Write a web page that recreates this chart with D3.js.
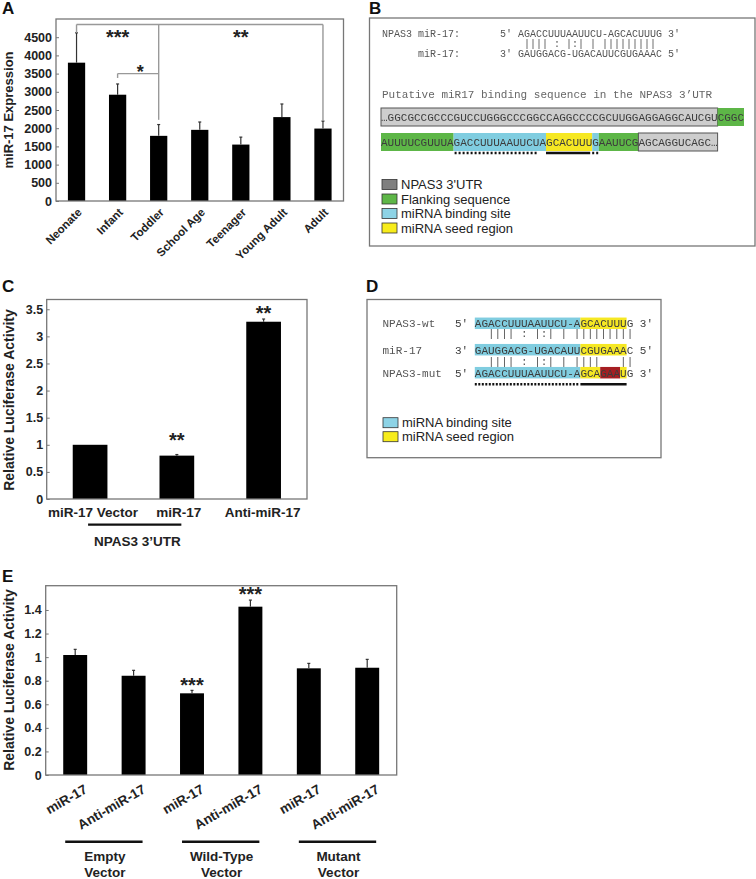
<!DOCTYPE html>
<html><head><meta charset="utf-8">
<script src="https://cdn.jsdelivr.net/npm/d3@7"></script>
<style>body{margin:0;background:#fff}svg{display:block}.mono{filter:grayscale(1)}</style>
</head><body><svg id="fig" width="756" height="879"></svg>
<script>
// ---------------- DATA ----------------
// Panel A
const stagesA = ["Neonate","Infant","Toddler","School Age","Teenager","Young Adult","Adult"];
const exprA = [3800, 2920, 1790, 1955, 1550, 2305, 1990];
const exprErrA = [820, 295, 310, 215, 205, 360, 205];
const ticksA = [0,500,1000,1500,2000,2500,3000,3500,4000,4500];
const yMaxA = 5000;
// significance brackets in A (indices into stagesA, bracket level in data units)
const sigLevelTopA = 4850;
const sigTopLinksA = [0, 2, 6];           // Neonate, Toddler, Adult
const sigTopDropsA = [4620, 2230, 2200];  // lower ends of the vertical legs
const sigTopLabelsA = ["***", "**"];
const sigSmallA = {from:1, to:2, level:3500, drop:3380, label:"*"};

// Panel B (sequence annotation)
const bAlignTop = ["NPAS3 miR-17:", "5' AGACCUUUAAUUCU-AGCACUUUG 3'"];
const bAlignPipes = "    |||| : |:| | |||||||||";
const bAlignBottom = ["miR-17:", "3' GAUGGACG-UGACAUUCGUGAAAC 5'"];
const bTitle = "Putative miR17 binding sequence in the NPAS3 3’UTR";
const seqB1 = [["…GGCGCCGCCCGUCCUGGGCCCGGCCAGGCCCCGCUUGGAGGAGGCAUCGU","utr"],["CGGC","flank"]];
const seqB2 = [["AUUUUCGUUUA","flank"],["GACCUUUAAUUCUA","bind"],["GCACUUU","seed"],["G","bind"],["AAUUCG","flank"],["AGCAGGUCAGC…","utr"]];
const legendB = [["NPAS3 3'UTR","utrL"],["Flanking sequence","flank"],["miRNA binding site","bindL"],["miRNA seed region","seedL"]];

// Panel C
const catsC = ["miR-17 Vector","miR-17","Anti-miR-17"];
const lucC = [1.0, 0.80, 3.27];
const lucErrC = [0, 0.02, 0.05];
const sigC = ["", "**", "**"];
const ticksC = [0,0.5,1,1.5,2,2.5,3,3.5];
const groupC = "NPAS3 3’UTR";
const yMaxC = 3.68;

// Panel D
const dNames = ["NPAS3-wt","miR-17","NPAS3-mut"];
const seqD1 = [["5' ",null],["AGACCUUUAAUUCU-A","bind"],["GCACUUU","seed"],["G 3'",null]];
const seqD2 = [["3' ",null],["GAUGGACG-UGACAUU","bind"],["CGUGAAA","seed"],["C 5'",null]];
const seqD3 = [["5' ",null],["AGACCUUUAAUUCU-A","bind"],["GCA","seed"],["GAA","mut"],["U","seed"],["G 3'",null]];
const dPipes1 = "     |||| : |:| | |||||||||";
const dPipes2 = "     |||| : |:| | ||||   ||";
const legendD = [["miRNA binding site","bindL"],["miRNA seed region","seedL"]];

// Panel E
const catsE = ["miR-17","Anti-miR-17","miR-17","Anti-miR-17","miR-17","Anti-miR-17"];
const groupsE = [["Empty","Vector"],["Wild-Type","Vector"],["Mutant","Vector"]];
const lucE = [1.018, 0.842, 0.693, 1.428, 0.905, 0.910];
const lucErrE = [0.048, 0.046, 0.025, 0.056, 0.042, 0.071];
const sigE = ["", "", "***", "***", "", ""];
const ticksE = [0,0.2,0.4,0.6,0.8,1,1.2,1.4];
const yMaxE = 1.606;

// ---------------- STYLE ----------------
const SANS = "'Liberation Sans', Arial, Helvetica, sans-serif";
const MONO = "'Liberation Mono', 'Courier New', monospace";
const COL = {utr:"#cdcdcd", utrL:"#7f7f7f", flank:"#5db647", bind:"#80cde0", bindL:"#8dd3e6",
             seed:"#f6e823", seedL:"#f7ec1b", mut:"#a61e22"};
const svg = d3.select("#fig");

function panelLabel(t, x, y){
  svg.append("text").attr("x",x).attr("y",y).text(t)
    .attr("font-family",SANS).attr("font-weight","bold").attr("font-size",17).attr("fill","#111");
}
function frame(x0,x1,y0,y1){
  svg.append("rect").attr("x",x0).attr("y",y0).attr("width",x1-x0).attr("height",y1-y0)
    .attr("fill","none").attr("stroke","#777").attr("stroke-width",1.3);
}
function yAxis(y, x0, ticks, pad, fs){
  const g = svg.append("g").attr("transform",`translate(${x0},0)`)
    .call(d3.axisLeft(y).tickValues(ticks).tickSize(-3).tickPadding(pad).tickFormat(d3.format("~g")));
  g.select(".domain").remove();
  g.selectAll(".tick line").attr("stroke","#777");
  g.selectAll("text").attr("font-family",SANS).attr("font-weight","bold").attr("font-size",fs).attr("fill","#222");
}
function yTitle(t, x, yc, fs){
  svg.append("text").attr("transform",`translate(${x},${yc}) rotate(-90)`).attr("text-anchor","middle")
    .attr("font-family",SANS).attr("font-weight","bold").attr("font-size",fs).attr("fill","#222").text(t);
}
function bars(x, y, vals, errs, keys){
  const bw = x.bandwidth();
  svg.append("g").selectAll("rect").data(vals).join("rect")
    .attr("x",(d,i)=>x(keys[i])).attr("y",d=>y(d)).attr("width",bw).attr("height",d=>y(0)-y(d))
    .attr("fill","#000");
  const eg = svg.append("g").attr("stroke","#333").attr("stroke-width",1.2);
  vals.forEach((v,i)=>{
    if(!errs[i]) return;
    const cx = x(keys[i]) + bw/2;
    eg.append("line").attr("x1",cx).attr("x2",cx).attr("y1",y(v)).attr("y2",y(v+errs[i]));
    eg.append("line").attr("x1",cx-1.5).attr("x2",cx+1.5).attr("y1",y(v+errs[i])).attr("y2",y(v+errs[i]));
  });
}
function stars(t, cx, cyCenter, fs){
  svg.append("text").attr("x",cx).attr("y",cyCenter + 0.57*fs).attr("text-anchor","middle")
    .attr("font-family",SANS).attr("font-weight","bold").attr("font-size",fs).attr("fill","#222").text(t);
}

// ---------------- PANEL A ----------------
panelLabel("A", 2, 14);
{
  const x0=56, x1=343.5, yb=201, yt=19;
  const x = d3.scaleBand().domain(stagesA).range([x0,x1]).paddingInner(0.58).paddingOuter(0.29);
  const y = d3.scaleLinear().domain([0,yMaxA]).range([yb,yt]);
  bars(x,y,exprA,exprErrA,stagesA);
  yAxis(y, x0, ticksA, 4, 12.5);
  frame(x0,x1,yt,yb);
  yTitle("miR-17 Expression", 13, 110, 13);
  const cx = i => x(stagesA[i]) + x.bandwidth()/2;
  svg.append("g").selectAll("text").data(stagesA).join("text")
    .attr("transform",(d,i)=>`translate(${cx(i)+6},${yb+12}) rotate(-45)`)
    .attr("text-anchor","end").attr("font-family",SANS).attr("font-weight","bold")
    .attr("font-size",11.5).attr("fill","#222").text(d=>d);
  const sg = svg.append("g").attr("stroke","#999").attr("stroke-width",1.4).attr("fill","none");
  const lx = sigTopLinksA.map(cx);
  sg.append("line").attr("x1",lx[0]).attr("x2",lx[2]).attr("y1",y(sigLevelTopA)).attr("y2",y(sigLevelTopA));
  sigTopLinksA.forEach((k,j)=>{
    sg.append("line").attr("x1",lx[j]).attr("x2",lx[j]).attr("y1",y(sigLevelTopA)).attr("y2",y(sigTopDropsA[j]));
  });
  sg.append("line").attr("x1",cx(sigSmallA.from)).attr("x2",cx(sigSmallA.to)).attr("y1",y(sigSmallA.level)).attr("y2",y(sigSmallA.level));
  sg.append("line").attr("x1",cx(sigSmallA.from)).attr("x2",cx(sigSmallA.from)).attr("y1",y(sigSmallA.level)).attr("y2",y(sigSmallA.drop));
  stars(sigTopLabelsA[0], (lx[0]+lx[1])/2, 33, 20);
  stars(sigTopLabelsA[1], (lx[1]+lx[2])/2, 33, 20);
  stars(sigSmallA.label, (cx(sigSmallA.from)+cx(sigSmallA.to))/2 + 2, 68, 18);
}

// ---------------- helpers for sequences ----------------
function seqRow(xs, yc, fs, h, segs, boxedKey){
  const cw = fs*0.6;
  let k = 0;
  const g = svg.append("g");
  segs.forEach(([t,key])=>{
    const n = Array.from(t).length;
    if(key){
      g.append("rect").attr("x",xs+k*cw).attr("y",yc-h/2).attr("width",n*cw).attr("height",h)
        .attr("fill",COL[key]).attr("stroke",key===boxedKey?"#555":"none").attr("stroke-width",1);
    }
    k += n;
  });
  g.append("text").attr("class","mono").attr("x",xs).attr("y",yc).attr("dy","0.35em").attr("font-family",MONO)
    .attr("font-size",fs).attr("fill","#3c3c3c")
    .style("white-space","pre").text(segs.map(s=>s[0]).join(""));
  return k;
}
function monoText(t, x, yc, fs, col){
  svg.append("text").attr("class","mono").attr("x",x).attr("y",yc).attr("dy","0.35em").attr("font-family",MONO)
    .attr("font-size",fs).attr("fill",col||"#555").style("white-space","pre").text(t);
}
function legend(items, x, y0, dy){
  items.forEach(([t,key],i)=>{
    const yc = y0 + i*dy;
    svg.append("rect").attr("x",x).attr("y",yc-5).attr("width",15).attr("height",10)
      .attr("fill",COL[key]).attr("stroke","#333").attr("stroke-width",0.8);
    svg.append("text").attr("x",x+19).attr("y",yc).attr("dy","0.36em").attr("font-family",SANS)
      .attr("font-size",13).attr("fill","#222").text(t);
  });
}

// ---------------- PANEL B ----------------
panelLabel("B", 369, 14);
frame(369.5, 755, 18, 246);
monoText(bAlignTop[0], 382, 33.5, 10);
monoText(bAlignTop[1], 500, 33.5, 10);
monoText(bAlignPipes, 500, 43.5, 10);
monoText(bAlignBottom[0], 418, 53.5, 10);
monoText(bAlignBottom[1], 500, 53.5, 10);
monoText(bTitle, 382, 94, 11, "#666");
{
  const xs = 381, cw = 6.6;
  seqRow(xs, 117, 11, 18, seqB1, "utr");
  seqRow(xs, 142, 11, 18, seqB2, "utr");
  const lens = seqB2.map(s=>Array.from(s[0]).length);
  const st = lens.map((l,i)=>d3.sum(lens.slice(0,i)));
  const ul = svg.append("g").attr("stroke","#111").attr("stroke-width",2.5);
  ul.append("line").attr("x1",xs+st[1]*cw+1).attr("x2",xs+st[2]*cw-8).attr("y1",153).attr("y2",153).attr("stroke-dasharray","2,2");
  ul.append("line").attr("x1",xs+st[2]*cw).attr("x2",xs+st[3]*cw-2).attr("y1",153).attr("y2",153);
  ul.append("line").attr("x1",xs+st[3]*cw).attr("x2",xs+st[4]*cw).attr("y1",153).attr("y2",153).attr("stroke-dasharray","2,2");
}
legend(legendB, 382, 184.5, 14.5);

// ---------------- PANEL C ----------------
panelLabel("C", 2, 292);
{
  const x0=46.7, x1=307, yb=499, yt=299.5;
  const x = d3.scaleBand().domain(catsC).range([x0,x1]).paddingInner(0.6).paddingOuter(0.3);
  const y = d3.scaleLinear().domain([0,yMaxC]).range([yb,yt]);
  bars(x,y,lucC,lucErrC,catsC);
  yAxis(y, x0, ticksC, 3.5, 12.5);
  frame(x0,x1,yt,yb);
  yTitle("Relative Luciferase Activity", 14, 400, 14);
  const cx = i => x(catsC[i]) + x.bandwidth()/2;
  catsC.forEach((c,i)=>{
    svg.append("text").attr("x",cx(i)+ (i===0?3:i===1?2:-1)).attr("y",517).attr("text-anchor","middle")
      .attr("font-family",SANS).attr("font-weight","bold").attr("font-size",13.5).attr("fill","#222").text(c);
    if(sigC[i]) stars(sigC[i], cx(i), y(lucC[i]+lucErrC[i]) - (i===1?19:10), 20);
  });
  svg.append("line").attr("x1",cx(0)-2).attr("x2",cx(1)+4.5).attr("y1",524.7).attr("y2",524.7)
    .attr("stroke","#111").attr("stroke-width",2.2);
  svg.append("text").attr("x",(cx(0)+cx(1))/2+4).attr("y",546).attr("text-anchor","middle")
    .attr("font-family",SANS).attr("font-weight","bold").attr("font-size",13.5).attr("fill","#222").text(groupC);
}

// ---------------- PANEL D ----------------
panelLabel("D", 366, 292);
frame(367, 661, 299.5, 457.7);
{
  const xs = 455, cw = 6.6;
  dNames.forEach((n,i)=> monoText(n, 382.5, [323.3,350,372.7][i], 11, "#555"));
  seqRow(xs, 323.3, 11, 11.5, seqD1, null);
  monoText(dPipes1, xs, 333.5, 11, "#555");
  seqRow(xs, 349.7, 11, 11.5, seqD2, null);
  monoText(dPipes2, xs, 361, 11, "#555");
  seqRow(xs, 372.7, 11, 11.5, seqD3, null);
  const lens = seqD3.map(s=>Array.from(s[0]).length);
  const st = lens.map((l,i)=>d3.sum(lens.slice(0,i)));
  const ul = svg.append("g").attr("stroke","#111").attr("stroke-width",2.5);
  ul.append("line").attr("x1",xs+st[1]*cw).attr("x2",xs+st[2]*cw-2).attr("y1",384.3).attr("y2",384.3).attr("stroke-dasharray","2,1.5");
  ul.append("line").attr("x1",xs+st[2]*cw).attr("x2",xs+st[5]*cw).attr("y1",384.3).attr("y2",384.3);
}
legend(legendD, 383, 422.7, 14);

// ---------------- PANEL E ----------------
panelLabel("E", 2, 582);
{
  const x0=45.7, x1=396.7, yb=775, yt=585.7;
  const keys = catsE.map((c,i)=>i);
  const x = d3.scaleBand().domain(keys).range([x0,x1]).paddingInner(0.59).paddingOuter(0.3);
  const y = d3.scaleLinear().domain([0,yMaxE]).range([yb,yt]);
  bars(x,y,lucE,lucErrE,keys);
  yAxis(y, x0, ticksE, 4, 12.5);
  frame(x0,x1,yt,yb);
  yTitle("Relative Luciferase Activity", 14, 680, 14);
  const cx = i => x(i) + x.bandwidth()/2;
  svg.append("g").selectAll("text").data(catsE).join("text")
    .attr("transform",(d,i)=>`translate(${cx(i)+13},${792}) rotate(-30)`)
    .attr("text-anchor","end").attr("font-family",SANS).attr("font-weight","bold")
    .attr("font-size",13.5).attr("fill","#222").text(d=>d);
  catsE.forEach((c,i)=>{ if(sigE[i]) stars(sigE[i], cx(i), y(lucE[i]+lucErrE[i]) - 10, 20); });
  groupsE.forEach((g,j)=>{
    const a = 2*j, b = 2*j+1;
    const lx0 = x(a)+2, lx1 = x(b)+x.bandwidth()-3;
    svg.append("line").attr("x1",lx0).attr("x2",lx1).attr("y1",841.7).attr("y2",841.7)
      .attr("stroke","#111").attr("stroke-width",2.5);
    g.forEach((t,k)=>{
      svg.append("text").attr("x",(lx0+lx1)/2+1).attr("y",861+k*16).attr("text-anchor","middle")
        .attr("font-family",SANS).attr("font-weight","bold").attr("font-size",13.5).attr("fill","#222").text(t);
    });
  });
}
</script></body></html>
